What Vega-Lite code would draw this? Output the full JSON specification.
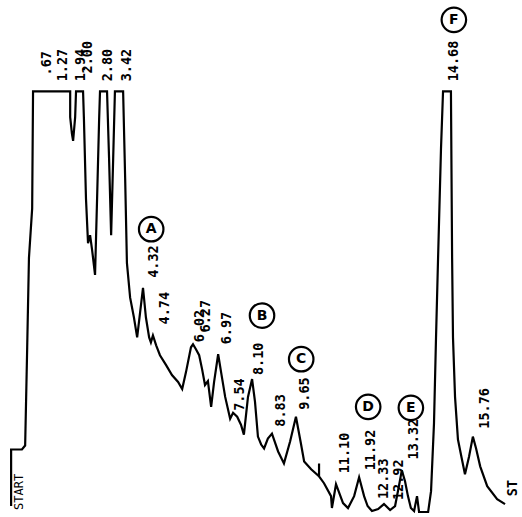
{
  "$schema": "https://vega.github.io/schema/vega-lite/v6.json",
  "width": 522,
  "height": 517,
  "padding": 0,
  "autosize": {"type": "fit", "contains": "padding"},
  "background": "white",
  "config": {"view": {"stroke": null}},
  "datasets": {
    "trace": [
      {"i": 1, "t": -0.19, "s": 7},
      {"i": 2, "t": -0.19, "s": 64},
      {"i": 3, "t": 0.18, "s": 64},
      {"i": 4, "t": 0.29, "s": 68},
      {"i": 5, "t": 0.36, "s": 167},
      {"i": 6, "t": 0.42, "s": 257},
      {"i": 7, "t": 0.53, "s": 307},
      {"i": 8, "t": 0.56, "s": 425},
      {"i": 9, "t": 1.83, "s": 425},
      {"i": 10, "t": 1.83, "s": 399},
      {"i": 11, "t": 1.89, "s": 382},
      {"i": 12, "t": 1.93, "s": 375},
      {"i": 13, "t": 2.0, "s": 399},
      {"i": 14, "t": 2.03, "s": 425},
      {"i": 15, "t": 2.27, "s": 425},
      {"i": 16, "t": 2.3, "s": 397},
      {"i": 17, "t": 2.37, "s": 317},
      {"i": 18, "t": 2.44, "s": 272},
      {"i": 19, "t": 2.51, "s": 280},
      {"i": 20, "t": 2.58, "s": 265},
      {"i": 21, "t": 2.68, "s": 240},
      {"i": 22, "t": 2.75, "s": 317},
      {"i": 23, "t": 2.82, "s": 397},
      {"i": 24, "t": 2.85, "s": 425},
      {"i": 25, "t": 3.09, "s": 425},
      {"i": 26, "t": 3.16, "s": 357},
      {"i": 27, "t": 3.23, "s": 280},
      {"i": 28, "t": 3.3, "s": 357},
      {"i": 29, "t": 3.36, "s": 425},
      {"i": 30, "t": 3.64, "s": 425},
      {"i": 31, "t": 3.71, "s": 337},
      {"i": 32, "t": 3.77, "s": 252},
      {"i": 33, "t": 3.88, "s": 217},
      {"i": 34, "t": 4.01, "s": 197},
      {"i": 35, "t": 4.12, "s": 177},
      {"i": 36, "t": 4.22, "s": 202},
      {"i": 37, "t": 4.32, "s": 227},
      {"i": 38, "t": 4.42, "s": 197},
      {"i": 39, "t": 4.53, "s": 177},
      {"i": 40, "t": 4.59, "s": 172},
      {"i": 41, "t": 4.66, "s": 179},
      {"i": 42, "t": 4.77, "s": 169},
      {"i": 43, "t": 4.9, "s": 159},
      {"i": 44, "t": 5.11, "s": 149},
      {"i": 45, "t": 5.31, "s": 139},
      {"i": 46, "t": 5.52, "s": 132},
      {"i": 47, "t": 5.66, "s": 125},
      {"i": 48, "t": 5.79, "s": 142},
      {"i": 49, "t": 5.96, "s": 167},
      {"i": 50, "t": 6.03, "s": 170},
      {"i": 51, "t": 6.13, "s": 165},
      {"i": 52, "t": 6.24, "s": 159},
      {"i": 53, "t": 6.34, "s": 145},
      {"i": 54, "t": 6.44, "s": 129},
      {"i": 55, "t": 6.54, "s": 133},
      {"i": 56, "t": 6.65, "s": 107},
      {"i": 57, "t": 6.75, "s": 132},
      {"i": 58, "t": 6.89, "s": 160},
      {"i": 59, "t": 6.99, "s": 142},
      {"i": 60, "t": 7.13, "s": 117},
      {"i": 61, "t": 7.3, "s": 95},
      {"i": 62, "t": 7.4, "s": 101},
      {"i": 63, "t": 7.54, "s": 97},
      {"i": 64, "t": 7.67, "s": 89},
      {"i": 65, "t": 7.77, "s": 79},
      {"i": 66, "t": 7.91, "s": 117},
      {"i": 67, "t": 8.05, "s": 135},
      {"i": 68, "t": 8.15, "s": 112},
      {"i": 69, "t": 8.25, "s": 77},
      {"i": 70, "t": 8.36, "s": 69},
      {"i": 71, "t": 8.46, "s": 65},
      {"i": 72, "t": 8.59, "s": 75},
      {"i": 73, "t": 8.73, "s": 80},
      {"i": 74, "t": 8.94, "s": 62},
      {"i": 75, "t": 9.14, "s": 50},
      {"i": 76, "t": 9.35, "s": 72},
      {"i": 77, "t": 9.55, "s": 97},
      {"i": 78, "t": 9.72, "s": 70},
      {"i": 79, "t": 9.83, "s": 52},
      {"i": 80, "t": 10.07, "s": 44},
      {"i": 81, "t": 10.34, "s": 37},
      {"i": 82, "t": 10.34, "s": 50},
      {"i": 83, "t": 10.34, "s": 37},
      {"i": 84, "t": 10.51, "s": 30},
      {"i": 85, "t": 10.75, "s": 17},
      {"i": 86, "t": 10.78, "s": 5},
      {"i": 87, "t": 10.92, "s": 29},
      {"i": 88, "t": 11.16, "s": 10},
      {"i": 89, "t": 11.33, "s": 5},
      {"i": 90, "t": 11.54, "s": 17},
      {"i": 91, "t": 11.71, "s": 36},
      {"i": 92, "t": 11.88, "s": 17},
      {"i": 93, "t": 12.0, "s": 7},
      {"i": 94, "t": 12.15, "s": 2},
      {"i": 95, "t": 12.36, "s": 4},
      {"i": 96, "t": 12.56, "s": 9},
      {"i": 97, "t": 12.77, "s": 3},
      {"i": 98, "t": 12.94, "s": 7},
      {"i": 99, "t": 13.07, "s": 27},
      {"i": 100, "t": 13.17, "s": 43},
      {"i": 101, "t": 13.28, "s": 32},
      {"i": 102, "t": 13.38, "s": 17},
      {"i": 103, "t": 13.48, "s": 5},
      {"i": 104, "t": 13.59, "s": 2},
      {"i": 105, "t": 13.69, "s": 17},
      {"i": 106, "t": 13.76, "s": 1},
      {"i": 107, "t": 14.07, "s": 1},
      {"i": 108, "t": 14.17, "s": 22},
      {"i": 109, "t": 14.27, "s": 90},
      {"i": 110, "t": 14.34, "s": 177},
      {"i": 111, "t": 14.41, "s": 257},
      {"i": 112, "t": 14.51, "s": 367},
      {"i": 113, "t": 14.58, "s": 425},
      {"i": 114, "t": 14.85, "s": 425},
      {"i": 115, "t": 14.89, "s": 257},
      {"i": 116, "t": 14.92, "s": 177},
      {"i": 117, "t": 14.99, "s": 117},
      {"i": 118, "t": 15.09, "s": 74},
      {"i": 119, "t": 15.22, "s": 55},
      {"i": 120, "t": 15.33, "s": 39},
      {"i": 121, "t": 15.47, "s": 57},
      {"i": 122, "t": 15.6, "s": 77},
      {"i": 123, "t": 15.71, "s": 65},
      {"i": 124, "t": 15.85, "s": 47},
      {"i": 125, "t": 16.09, "s": 27},
      {"i": 126, "t": 16.43, "s": 14},
      {"i": 127, "t": 16.7, "s": 9}
    ],
    "labels": [
      {"t": 1.04, "s": 441, "text": ".67"},
      {"t": 1.59, "s": 435, "text": "1.27"},
      {"t": 2.2, "s": 435, "text": "1.94"},
      {"t": 2.44, "s": 443, "text": "2.00"},
      {"t": 3.13, "s": 435, "text": "2.80"},
      {"t": 3.77, "s": 435, "text": "3.42"},
      {"t": 4.7, "s": 237, "text": "4.32"},
      {"t": 5.07, "s": 190, "text": "4.74"},
      {"t": 6.27, "s": 172, "text": "6.02"},
      {"t": 6.48, "s": 182, "text": "6.27"},
      {"t": 7.19, "s": 170, "text": "6.97"},
      {"t": 7.64, "s": 103, "text": "7.54"},
      {"t": 8.29, "s": 139, "text": "8.10"},
      {"t": 9.04, "s": 87, "text": "8.83"},
      {"t": 9.86, "s": 104, "text": "9.65"},
      {"t": 11.23, "s": 40, "text": "11.10"},
      {"t": 12.12, "s": 43, "text": "11.92"},
      {"t": 12.56, "s": 14, "text": "12.33"},
      {"t": 13.07, "s": 13, "text": "12.92"},
      {"t": 13.59, "s": 54, "text": "13.32"},
      {"t": 14.95, "s": 435, "text": "14.68"},
      {"t": 16.01, "s": 85, "text": "15.76"},
      {"t": 16.97, "s": 17, "text": "ST"}
    ],
    "start": [
      {"t": 0.08, "s": 3, "text": "START"}
    ],
    "circles": [
      {"t": 4.6, "s": 286, "letter": "A"},
      {"t": 8.39, "s": 199, "letter": "B"},
      {"t": 9.73, "s": 155, "letter": "C"},
      {"t": 12.02, "s": 107, "letter": "D"},
      {"t": 13.48, "s": 106, "letter": "E"},
      {"t": 14.95, "s": 497, "letter": "F"}
    ]
  },
  "encoding": {
    "x": {"field": "t", "type": "quantitative", "scale": {"domain": [-0.57, 17.28], "nice": false, "zero": false}, "axis": null},
    "y": {"field": "s", "type": "quantitative", "scale": {"domain": [0, 517], "nice": false, "zero": false}, "axis": null}
  },
  "layer": [
    {
      "data": {"name": "trace"},
      "mark": {"type": "line", "color": "black", "strokeWidth": 2.2, "strokeJoin": "miter", "strokeMiterLimit": 4},
      "encoding": {"order": {"field": "i", "type": "quantitative"}}
    },
    {
      "data": {"name": "labels"},
      "mark": {"type": "text", "angle": 270, "align": "left", "baseline": "middle", "font": "DejaVu Sans Mono", "fontWeight": "bold", "fontSize": 13.5, "color": "black"},
      "encoding": {"text": {"field": "text"}}
    },
    {
      "data": {"name": "start"},
      "mark": {"type": "text", "angle": 270, "align": "left", "baseline": "middle", "font": "DejaVu Sans Mono", "fontSize": 12, "color": "black"},
      "encoding": {"text": {"field": "text"}}
    },
    {
      "data": {"name": "circles"},
      "mark": {"type": "point", "shape": "circle", "size": 600, "filled": false, "fill": "white", "fillOpacity": 1, "stroke": "black", "strokeWidth": 2.2, "opacity": 1}
    },
    {
      "data": {"name": "circles"},
      "mark": {"type": "text", "align": "center", "baseline": "middle", "font": "DejaVu Sans", "fontWeight": "bold", "fontSize": 14, "color": "black"},
      "encoding": {"text": {"field": "letter"}}
    }
  ]
}
